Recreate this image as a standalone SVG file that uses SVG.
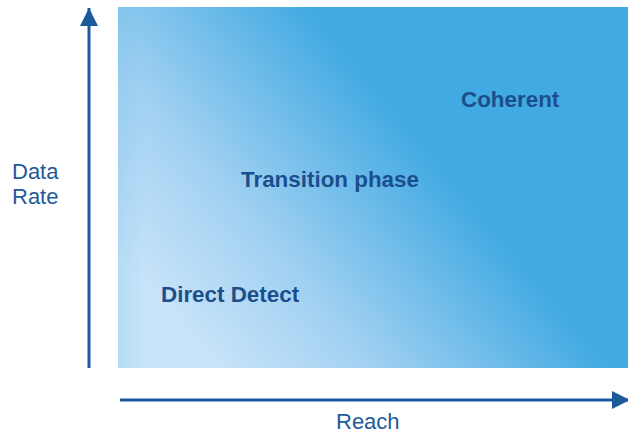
<svg xmlns="http://www.w3.org/2000/svg" width="628" height="435" viewBox="0 0 628 435">
  <defs>
    <linearGradient id="bg" gradientUnits="userSpaceOnUse" x1="175" y1="325" x2="410" y2="128">
      <stop offset="0" stop-color="#c9e4f9"/>
      <stop offset="0.4" stop-color="#a2d1f2"/>
      <stop offset="1" stop-color="#42aae2"/>
    </linearGradient>
    <linearGradient id="edge" gradientUnits="userSpaceOnUse" x1="118" y1="0" x2="145" y2="0">
      <stop offset="0" stop-color="#5eb3e6" stop-opacity="0.2"/>
      <stop offset="1" stop-color="#5eb3e6" stop-opacity="0"/>
    </linearGradient>
    <marker id="arrow" viewBox="0 0 10 10" refX="10" refY="5" markerWidth="6" markerHeight="6" markerUnits="strokeWidth" orient="auto">
      <path d="M0,0 L10,5 L0,10 Z" fill="#1d5a9b"/>
    </marker>
    <style>
      .axis { stroke: #1d5a9b; stroke-width: 3; fill: none; }
      .axislabel { font-family: "Liberation Sans", Arial, sans-serif; font-size: 22px; fill: #1f5a9a; }
      .region { font-family: "Liberation Sans", Arial, sans-serif; font-size: 22.4px; font-weight: bold; fill: #1d4e8c; }
    </style>
  </defs>
  <rect width="628" height="435" fill="#ffffff"/>
  <g id="background">
    <rect x="118" y="7" width="510" height="361" fill="url(#bg)"/>
    <rect x="118" y="7" width="27" height="361" fill="url(#edge)"/>
  </g>
  <g id="connectors">
    <line class="axis" x1="89" y1="368" x2="89" y2="8" marker-end="url(#arrow)"/>
    <line class="axis" x1="120" y1="400" x2="630" y2="400" marker-end="url(#arrow)"/>
  </g>
  <g id="y-label">
    <text class="axislabel" x="12" y="179">Data</text>
    <text class="axislabel" x="12" y="204">Rate</text>
  </g>
  <g id="x-label">
    <text class="axislabel" x="336" y="429">Reach</text>
  </g>
  <g id="coherent">
    <text class="region" x="461" y="107">Coherent</text>
  </g>
  <g id="transition">
    <text class="region" x="241" y="187">Transition phase</text>
  </g>
  <g id="direct-detect">
    <text class="region" x="161" y="302">Direct Detect</text>
  </g>
</svg>
